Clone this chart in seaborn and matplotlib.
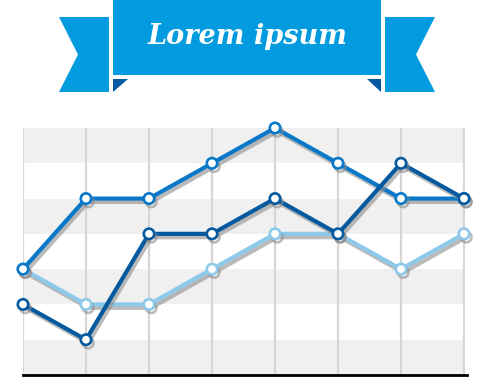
import matplotlib
matplotlib.use("Agg")
import matplotlib.pyplot as plt
import matplotlib.patheffects as pe
from matplotlib.patches import Polygon, Rectangle
import numpy as np
import pandas as pd
import seaborn as sns

sns.set_style("white")

# --- data -------------------------------------------------------------
steps = [0, 1, 2, 3, 4, 5, 6, 7]
series_a = [3, 5, 5, 6, 7, 6, 5, 5]      # mid blue
series_b = [2, 1, 4, 4, 5, 4, 6, 5]      # dark blue
series_c = [3, 2, 2, 3, 4, 4, 3, 4]      # light blue
series_names = ["A", "B", "C"]
series_colors = {"A": "#0A78C8", "B": "#05599E", "C": "#8CC9EA"}
draw_order = ["C", "A", "B"]
title_text = "Lorem ipsum"

df = pd.concat([
    pd.DataFrame({"step": steps, "value": vals, "series": name})
    for name, vals in zip(series_names, [series_a, series_b, series_c])
])

W, H = 495, 385
fig = plt.figure(figsize=(W / 100, H / 100), dpi=100)
fig.patch.set_facecolor("white")

def px(x0, y0, x1, y1):
    return [x0 / W, 1 - y1 / H, (x1 - x0) / W, (y1 - y0) / H]

ax = fig.add_axes(px(23, 128, 467, 375))
ax.set_xlim(0, 444 / 63)
ax.set_ylim(0, 7)

# striped background
for lo in (0, 2, 4, 6):
    ax.axhspan(lo, lo + 1, xmin=0, xmax=7 / (444 / 63), color="#F0F0F0", zorder=0, lw=0)
for s in steps:
    ax.axvline(s, color="#D6D6D6", lw=1.6, zorder=1)

shadow = [pe.SimpleLineShadow(offset=(1.6, -2.4), shadow_color="#8C8C8C", alpha=0.6), pe.Normal()]

for name in draw_order:
    sub = df[df["series"] == name]
    c = series_colors[name]
    sns.lineplot(data=sub, x="step", y="value", color=c,
                 marker="o", markersize=7.5, markerfacecolor="white",
                 markeredgecolor=c, markeredgewidth=1.9, linewidth=3.0,
                 legend=False, ax=ax, zorder=3, clip_on=False)
    line = ax.get_lines()[-1]
    line.set_path_effects(shadow)
    line.set_clip_on(False)

for sp in ["left", "right", "top"]:
    ax.spines[sp].set_visible(False)
ax.spines["bottom"].set_color("black")
ax.spines["bottom"].set_linewidth(2.0)
ax.spines["bottom"].set_zorder(5)
ax.set_xticks([])
ax.set_yticks([])
ax.set_xlabel("")
ax.set_ylabel("")

# --- ribbon banner ----------------------------------------------------
ov = fig.add_axes([0, 0, 1, 1], facecolor="none")
ov.set_xlim(0, W)
ov.set_ylim(H, 0)
ov.axis("off")

banner = "#039BDF"
dark = "#05599E"
ov.add_patch(Polygon([(59, 17), (109, 17), (109, 92), (59, 92), (78, 54.5)],
                     closed=True, color=banner, lw=0))
ov.add_patch(Polygon([(385, 17), (435, 17), (416, 54.5), (435, 92), (385, 92)],
                     closed=True, color=banner, lw=0))
ov.add_patch(Polygon([(113, 79), (128, 79), (113, 92)], closed=True, color=dark, lw=0))
ov.add_patch(Polygon([(367, 79), (381, 79), (381, 92)], closed=True, color=dark, lw=0))
ov.add_patch(Rectangle((113, 0), 268, 74.5, color=banner, lw=0))
ov.text(248, 37, title_text, color="white", ha="center", va="center",
        fontsize=19.5, fontweight="bold", fontstyle="italic", family="DejaVu Serif")

fig.savefig("out.png", dpi=100)
